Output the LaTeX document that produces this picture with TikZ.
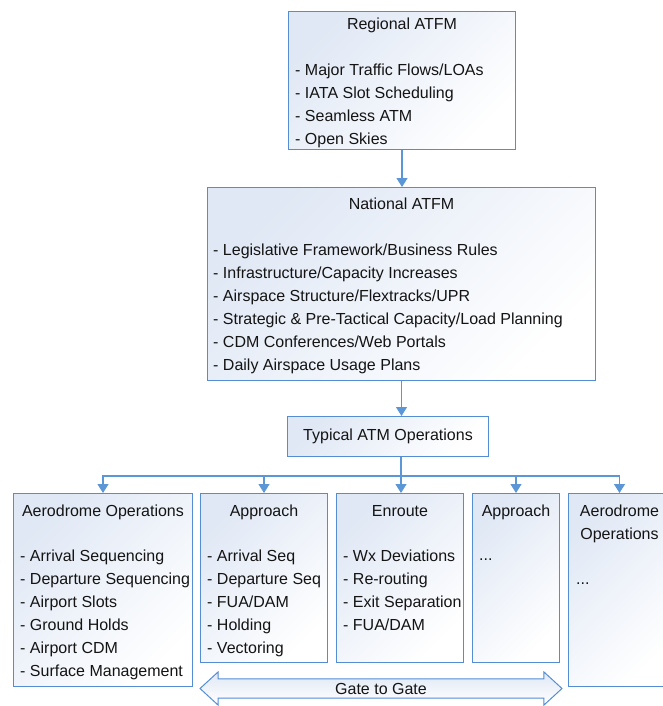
\documentclass[tikz,border=0pt]{standalone}
\usepackage{fontspec}
\setmainfont{Liberation Sans}
\usetikzlibrary{arrows.meta,positioning,shapes.arrows}
\definecolor{AtmBlue}{RGB}{84,141,212}
\definecolor{AtmLine}{RGB}{91,150,214}
\definecolor{AtmFill}{RGB}{224,232,245}
\definecolor{AtmText}{RGB}{20,20,20}
\newcommand{\atmfont}{\fontsize{16}{23}\selectfont}
\tikzset{
  opsbox/.style={rectangle, draw=AtmBlue, line width=1pt, top color=AtmFill,
    bottom color=white, shading angle=45, anchor=north west, inner sep=0pt},
  boxtitle/.style={align=center, inner sep=0pt, text=AtmText, font=\atmfont},
  boxlist/.style={align=left, anchor=north west, inner sep=0pt, text=AtmText, font=\atmfont},
  link/.style={-{Triangle[width=11pt,length=9pt]}, line width=1.2pt, draw=AtmLine}
}

\begin{document}
\begin{tikzpicture}[x=1pt, y=-1pt]
  \useasboundingbox (0,0) rectangle (663,706);
  \node[opsbox, minimum width=227pt, minimum height=138pt] (regional) at (288,11) {};
  \node[boxtitle, below=7pt of regional.north] (regionalT) {Regional ATFM};
  \node[boxlist] (regionalL) at (295,64) {- Major Traffic Flows/LOAs\\- IATA Slot Scheduling\\- Seamless ATM\\- Open Skies};
  \node[opsbox, minimum width=388pt, minimum height=193pt] (national) at (207,187) {};
  \node[boxtitle, below=11pt of national.north] (nationalT) {National ATFM};
  \node[boxlist] (nationalL) at (213,243.5) {- Legislative Framework/Business Rules\\- Infrastructure/Capacity Increases\\- Airspace Structure/Flextracks/UPR\\- Strategic \& Pre-Tactical Capacity/Load Planning\\- CDM Conferences/Web Portals\\- Daily Airspace Usage Plans};
  \node[opsbox, minimum width=201pt, minimum height=40pt, font=\atmfont, text=AtmText] (typical) at (287,416) {Typical ATM Operations};

  \node[opsbox, minimum width=179pt, minimum height=193pt] (aero) at (13,493) {};
  \node[boxtitle, below=12pt of aero.north] (aeroT) {Aerodrome Operations};
  \node[boxlist] (aeroL) at (20,550) {- Arrival Sequencing\\- Departure Sequencing\\- Airport Slots\\- Ground Holds\\- Airport CDM\\- Surface Management};
  \node[opsbox, minimum width=127pt, minimum height=169pt] (appr) at (200,493) {};
  \node[boxtitle, below=12pt of appr.north] (apprT) {Approach};
  \node[boxlist] (apprL) at (207,550) {- Arrival Seq\\- Departure Seq\\- FUA/DAM\\- Holding\\- Vectoring};
  \node[opsbox, minimum width=127pt, minimum height=169pt] (enroute) at (336,493) {};
  \node[boxtitle, below=12pt of enroute.north] (enrouteT) {Enroute};
  \node[boxlist] (enrouteL) at (343,550) {- Wx Deviations\\- Re-routing\\- Exit Separation\\- FUA/DAM};
  \node[opsbox, minimum width=87pt, minimum height=169pt] (apprB) at (472,493) {};
  \node[boxtitle, below=12pt of apprB.north] (apprBT) {Approach};
  \node[boxlist, anchor=base west] (apprBL) at (479,560) {...};
  \node[opsbox, minimum width=102pt, minimum height=193pt] (aeroB) at (568,493) {};
  \node[boxtitle, below=12pt of aeroB.north] (aeroBT) {Aerodrome\\Operations};
  \node[boxlist, anchor=base west] (aeroBL) at (576,584) {...};

  \node[double arrow, draw=AtmBlue, line width=1pt, top color=AtmFill, bottom color=white,
    minimum height=362pt, double arrow head extend=7pt, double arrow tip angle=85,
    inner xsep=2pt, inner ysep=3.4pt, font=\atmfont, text=AtmText] (gate) at (381,688.5) {Gate to Gate};

  \coordinate (split) at (401,476);
  \draw[link] (regional.south) -- (regional.south |- national.north);
  \draw[link] (national.south) -- (national.south |- typical.north);
  \draw[link, -] (typical.south -| split) -- (split);
  \draw[link] (split) -| (aero.north);
  \draw[link] (split) -| (appr.north);
  \draw[link] (split) -- (enroute.north -| split);
  \draw[link] (split) -| (apprB.north);
  \draw[link] (split) -| (aeroB.north);
\end{tikzpicture}
\end{document}
